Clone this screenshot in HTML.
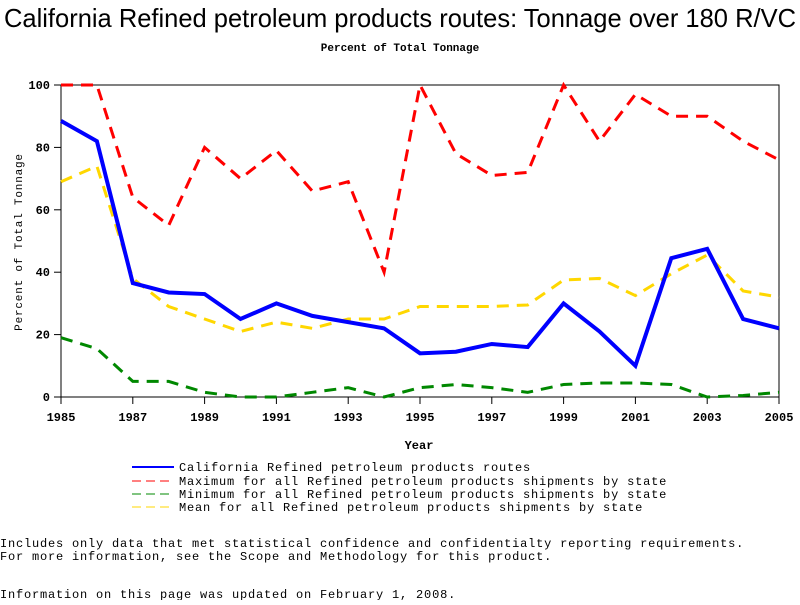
<!DOCTYPE html>
<html><head><meta charset="utf-8"><style>
body{margin:0;background:#fff;width:800px;height:600px;overflow:hidden;font-family:"Liberation Mono",monospace}
svg text{font-family:"Liberation Mono",monospace;font-size:12px;fill:#000}
.wide{letter-spacing:0.8px}
</style></head><body>
<svg id="chart" width="800" height="600">
<text x="400" y="27" text-anchor="middle" textLength="792" lengthAdjust="spacingAndGlyphs" style="font-family:'Liberation Sans',sans-serif;font-size:26px">California Refined petroleum products routes: Tonnage over 180 R/VC</text>
<text x="400" y="51" text-anchor="middle" style="font-size:11px;font-weight:bold">Percent of Total Tonnage</text>
<rect x="61" y="85" width="718" height="312" fill="none" stroke="#000"/>
<g id="axes"></g><g id="series"></g>
<text x="419" y="449" text-anchor="middle" style="font-weight:bold">Year</text>
<text transform="translate(22,242) rotate(-90)" text-anchor="middle" class="wide" style="font-size:11px">Percent of Total Tonnage</text>
<g>
<line x1="132" y1="467" x2="174" y2="467" stroke="#00f" stroke-width="2"/><text x="179" y="471" class="wide">California Refined petroleum products routes</text>
<line x1="132" y1="481" x2="174" y2="481" stroke="#f00" stroke-width="1" stroke-dasharray="9,5"/><text x="179" y="485" class="wide">Maximum for all Refined petroleum products shipments by state</text>
<line x1="132" y1="494" x2="174" y2="494" stroke="#080" stroke-width="1" stroke-dasharray="9,5"/><text x="179" y="498" class="wide">Minimum for all Refined petroleum products shipments by state</text>
<line x1="132" y1="507" x2="174" y2="507" stroke="#ffd700" stroke-width="1" stroke-dasharray="9,5"/><text x="179" y="511" class="wide">Mean for all Refined petroleum products shipments by state</text>
</g>
<text x="0" y="547" class="wide">Includes only data that met statistical confidence and confidentialty reporting requirements.</text>
<text x="0" y="560" class="wide">For more information, see the Scope and Methodology for this product.</text>
<text x="0" y="598" class="wide">Information on this page was updated on February 1, 2008.</text>
</svg>
<script>
const years=[1985,1986,1987,1988,1989,1990,1991,1992,1993,1994,1995,1996,1997,1998,1999,2000,2001,2002,2003,2004,2005];
const californiaValues=[88.5,82,36.5,33.5,33,25,30,26,24,22,14,14.5,17,16,30,21,10,44.5,47.5,25,22];
const maximumValues=[100,100,64,55,80,70,79,66,69,40,100,78,71,72,100,82,97,90,90,82,76];
const minimumValues=[19,15.5,5,5,1.5,0,0,1.5,3,0,3,4,3,1.5,4,4.5,4.5,4,0,0.5,1.5];
const meanValues=[69,74,38,29,25,21,24,22,25,25,29,29,29,29.5,37.5,38,32.5,39.5,45.5,34,32];
const xTicks=[1985,1987,1989,1991,1993,1995,1997,1999,2001,2003,2005];
const yTicks=[0,20,40,60,80,100];
const NS="http://www.w3.org/2000/svg";
const X=v=>61+(v-1985)*(718/20);
const Y=v=>397-v*3.12;
const ax=document.getElementById('axes'),sg=document.getElementById('series');
function mk(tag,attrs,parent){const e=document.createElementNS(NS,tag);for(const k in attrs)e.setAttribute(k,attrs[k]);parent.appendChild(e);return e;}
xTicks.forEach(t=>{
  const l=mk('line',{x1:X(t),x2:X(t),y1:397,y2:404,stroke:'#000'},ax);
  
  
  const tx=mk('text',{x:X(t),y:421,'text-anchor':'middle','font-weight':'bold'},ax);tx.textContent=t;
  
  
});
yTicks.forEach(t=>{
  const l=mk('line',{x1:54,x2:61,y1:Y(t),y2:Y(t),stroke:'#000'},ax);
  
  
  const tx=mk('text',{x:50,y:Y(t)+4,'text-anchor':'end','font-weight':'bold'},ax);tx.textContent=t;
  
  
});
function line(vals,color,w,dash,name){
  const p=mk('polyline',{points:vals.map((v,i)=>X(years[i])+','+Y(v)).join(' '),fill:'none',stroke:color,'stroke-width':w,'stroke-dasharray':dash},sg);
  
  
}
line(maximumValues,'#f00',3,'12,8','maximum-line');
line(meanValues,'#ffd700',3,'12,8','mean-line');
line(minimumValues,'#080',3,'12,8','minimum-line');
line(californiaValues,'#00f',4,'none','california-line');
</script>
</body></html>
